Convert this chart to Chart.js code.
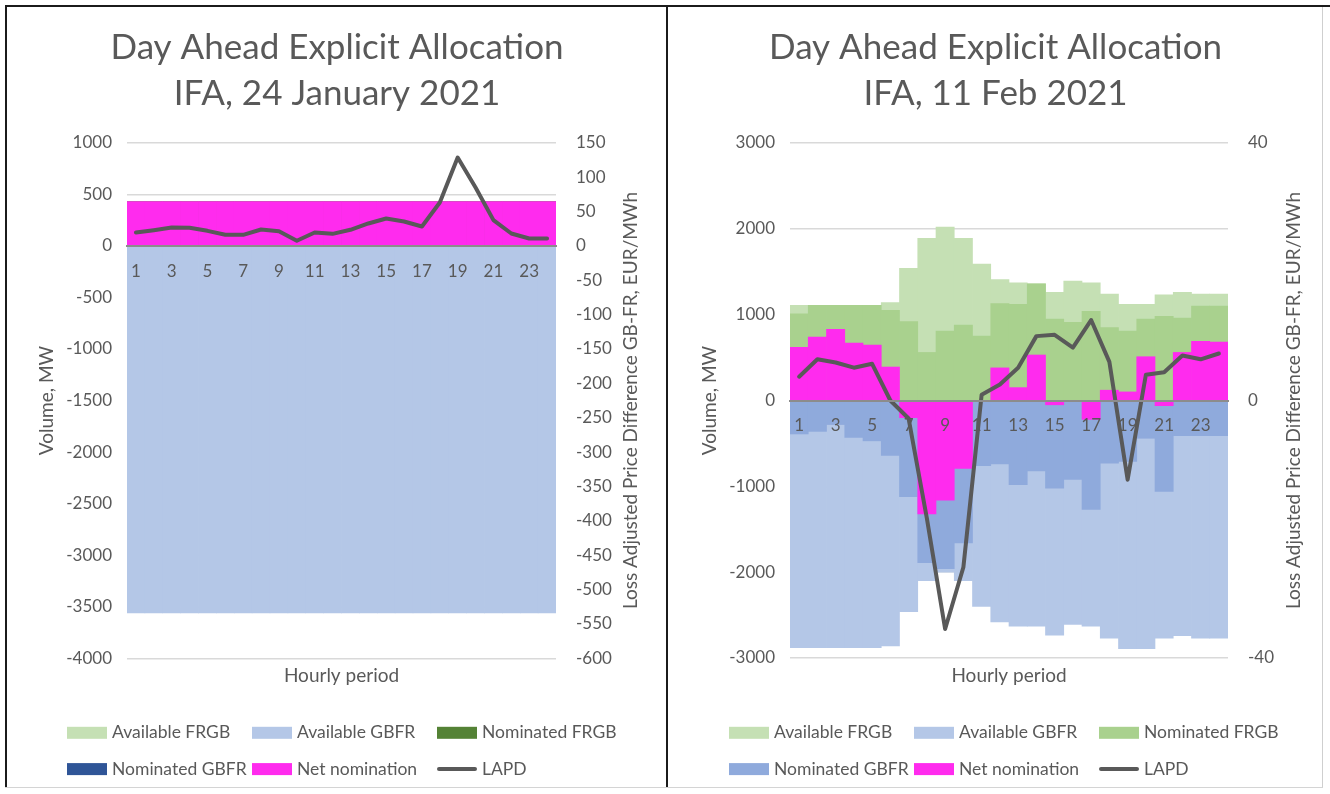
<!DOCTYPE html>
<html>
<head>
<meta charset="utf-8">
<title>Day Ahead Explicit Allocation – IFA</title>
<script src="https://cdn.jsdelivr.net/npm/chart.js@4.4.1/dist/chart.umd.min.js"></script>
<style>
  html, body { margin: 0; padding: 0; background: #ffffff; }
  body { width: 1330px; height: 794px; position: relative; overflow: hidden; }
  .rule { position: absolute; }
  canvas { position: absolute; }
  #c1 { left: 8px; top: 8px; }
  #c2 { left: 669px; top: 8px; }
</style>
</head>
<body>
<div class="rule" style="left:5px;top:5px;width:1325px;height:2px;background:#1b1b1b"></div>
<div class="rule" style="left:5px;top:5px;width:2px;height:783px;background:#1b1b1b"></div>
<div class="rule" style="left:666px;top:5px;width:2px;height:783px;background:#1b1b1b"></div>
<div class="rule" style="left:1322px;top:7px;width:1px;height:781px;background:#cfcfcf"></div>
<div class="rule" style="left:5px;top:787px;width:1318px;height:1px;background:#d4d4d4"></div>
<canvas id="c1" width="658" height="778"></canvas>
<canvas id="c2" width="653" height="778"></canvas>
<script>
// Hourly periods
const HOURS = ['1','2','3','4','5','6','7','8','9','10','11','12',
               '13','14','15','16','17','18','19','20','21','22','23','24'];

// 24 January 2021 (MW, LAPD in EUR/MWh)
const JAN_AVAILABLE_FRGB = [430,430,430,430,430,430,430,430,430,430,430,430,430,430,430,430,430,430,430,430,430,430,430,430];
const JAN_AVAILABLE_GBFR = [-3560,-3560,-3560,-3560,-3560,-3560,-3560,-3560,-3560,-3560,-3560,-3560,-3560,-3560,-3560,-3560,-3560,-3560,-3560,-3560,-3560,-3560,-3560,-3560];
const JAN_NOMINATED_FRGB = [430,430,430,430,430,430,430,430,430,430,430,430,430,430,430,430,430,430,430,430,430,430,430,430];
const JAN_NOMINATED_GBFR = [0,0,0,0,0,0,0,0,0,0,0,0,0,0,0,0,0,0,0,0,0,0,0,0];
const JAN_NET_NOMINATION = [430,430,430,430,430,430,430,430,430,430,430,430,430,430,430,430,430,430,430,430,430,430,430,430];
const JAN_LAPD = [19.3,22.8,26.6,26.2,21.8,16,16,23.7,21.3,7.3,19.3,17.4,23.3,32.5,39.7,35.4,28.1,63,128.4,84.8,37.4,17.9,10.6,10.6];

// 11 February 2021 (MW, LAPD in EUR/MWh)
const FEB_AVAILABLE_FRGB = [1110,1110,1110,1110,1110,1140,1540,1890,2020,1890,1590,1410,1370,1360,1260,1390,1370,1240,1120,1120,1230,1260,1240,1240];
const FEB_AVAILABLE_GBFR = [-2880,-2880,-2880,-2880,-2880,-2860,-2460,-2100,-2000,-2100,-2400,-2580,-2630,-2630,-2735,-2610,-2630,-2770,-2890,-2890,-2770,-2740,-2770,-2770];
const FEB_NOMINATED_FRGB = [1010,1110,1110,1110,1110,1050,920,560,810,880,750,1130,1120,1360,950,910,1040,850,810,950,980,960,1100,1100];
const FEB_NOMINATED_GBFR = [-390,-360,-280,-430,-470,-640,-1120,-1890,-1960,-1660,-760,-740,-980,-820,-1020,-920,-1270,-730,-710,-440,-1060,-410,-410,-410];
const FEB_NET_NOMINATION = [620,740,830,670,645,390,-200,-1320,-1160,-790,-10,380,150,530,-50,-10,-220,120,100,510,-60,560,690,680];
const FEB_LAPD = [3.7,6.4,5.9,5.1,5.7,0,-2.8,-18.3,-35.5,-25.9,0.9,2.5,5.1,10.0,10.2,8.2,12.5,6.0,-12.3,4.0,4.4,7.0,6.4,7.3];

const TEXT = '#595959';
const FONT = 'Lato, "Open Sans", sans-serif';
const MAGENTA = '#FF2BEE';

function barSet(label, data, color, order) {
  return {
    type: 'bar', label, data, backgroundColor: color, borderWidth: 0,
    grouped: false, barPercentage: 1, categoryPercentage: 1, order,
    xAxisID: 'x', yAxisID: 'y'
  };
}

function lineSet(label, data) {
  return {
    type: 'line', label, data, borderColor: '#595959', backgroundColor: '#595959',
    borderWidth: 4, pointRadius: 0, tension: 0, fill: false, order: 0,
    borderJoinStyle: 'round', borderCapStyle: 'round',
    xAxisID: 'x', yAxisID: 'y2'
  };
}

// Right-hand axis title (reading upwards) and the three-column legend
const sideParts = {
  id: 'sideParts',
  afterDraw(chart, args, opts) {
    const ctx = chart.ctx;
    const a = chart.chartArea;
    ctx.save();
    ctx.fillStyle = TEXT;
    ctx.font = '19px ' + FONT;
    ctx.textAlign = 'center';
    ctx.textBaseline = 'middle';
    ctx.translate(a.right + opts.rightTitleOffset, (a.top + a.bottom) / 2);
    ctx.rotate(-Math.PI / 2);
    ctx.fillText(opts.rightTitle, 0, 0);
    ctx.restore();

    ctx.save();
    ctx.font = '17.5px ' + FONT;
    ctx.textAlign = 'left';
    ctx.textBaseline = 'middle';
    chart.data.datasets.forEach((ds, i) => {
      const x = opts.legendLeft + (i % 3) * opts.legendColumn;
      const y = opts.legendTop + Math.floor(i / 3) * opts.legendRow;
      if (ds.type === 'line') {
        ctx.strokeStyle = ds.borderColor;
        ctx.lineWidth = 4;
        ctx.lineCap = 'round';
        ctx.beginPath();
        ctx.moveTo(x + 2, y);
        ctx.lineTo(x + 38, y);
        ctx.stroke();
      } else {
        ctx.fillStyle = ds.backgroundColor;
        ctx.fillRect(x, y - 6, 40, 12);
      }
      ctx.fillStyle = TEXT;
      ctx.fillText(ds.label, x + 45, y);
    });
    ctx.restore();
  }
};

function makeChart(canvas, spec) {
  return new Chart(canvas, {
    type: 'bar',
    data: {
      labels: HOURS,
      datasets: [
        barSet('Available FRGB', spec.availFRGB, '#C5E0B4', 5),
        barSet('Available GBFR', spec.availGBFR, '#B4C7E7', 4),
        barSet('Nominated FRGB', spec.nomFRGB, spec.nomFRGBColor, 3),
        barSet('Nominated GBFR', spec.nomGBFR, spec.nomGBFRColor, 2),
        barSet('Net nomination', spec.net, MAGENTA, 1),
        lineSet('LAPD', spec.lapd)
      ]
    },
    options: {
      responsive: false,
      animation: false,
      devicePixelRatio: 1,
      layout: { padding: 0 },
      plugins: {
        legend: { display: false },
        tooltip: { enabled: false },
        title: {
          display: true,
          text: spec.title,
          color: TEXT,
          font: { size: 35, family: FONT, weight: 'normal', lineHeight: '46px' },
          padding: { top: 16.5, bottom: spec.plotTop - 16.5 - 92 }
        },
        sideParts: {
          rightTitle: 'Loss Adjusted Price Difference GB-FR, EUR/MWh',
          rightTitleOffset: spec.rightTitleOffset,
          legendLeft: spec.legendLeft,
          legendColumn: 185,
          legendTop: 724.8,
          legendRow: 36.3
        }
      },
      scales: {
        x: {
          type: 'category',
          position: { y: 0 },
          offset: true,
          grid: { display: false, drawTicks: false },
          border: { display: true, color: '#8c8c8c', width: 2, z: 1 },
          ticks: {
            z: 1, color: TEXT, font: { size: 17, family: FONT }, padding: 15,
            autoSkip: false, maxRotation: 0, minRotation: 0,
            callback: (v, i) => (i % 2 === 0 ? HOURS[i] : '')
          }
        },
        x2: {
          type: 'category',
          position: 'bottom',
          offset: true,
          grid: { display: false, drawTicks: false },
          border: { display: false },
          ticks: { display: false },
          title: {
            display: true, text: 'Hourly period', color: TEXT,
            font: { size: 19, family: FONT }, padding: { top: 0, bottom: 98.5 }
          },
          afterFit: (s) => { s.height = 778 - spec.plotBottom; }
        },
        y: {
          position: 'left',
          min: spec.yMin, max: spec.yMax,
          ticks: {
            stepSize: spec.yStep, color: TEXT, font: { size: 17, family: FONT }, padding: 15,
            format: { useGrouping: false }
          },
          grid: { color: '#D9D9D9', lineWidth: 1.5, drawTicks: false },
          border: { display: false },
          title: {
            display: true, text: 'Volume, MW', color: TEXT,
            font: { size: 19, family: FONT }, padding: { top: spec.leftTitlePad, bottom: 0 }
          },
          afterFit: (s) => { s.width = spec.plotLeft; }
        },
        y2: {
          position: 'right',
          min: spec.y2Min, max: spec.y2Max,
          ticks: {
            stepSize: spec.y2Step, color: TEXT, font: { size: 17, family: FONT }, padding: 20,
            format: { useGrouping: false }
          },
          grid: { display: false, drawTicks: false },
          border: { display: false },
          afterFit: (s) => { s.width = canvas.width - spec.plotRight; }
        }
      }
    },
    plugins: [sideParts]
  });
}

makeChart(document.getElementById('c1'), {
  title: ['Day Ahead Explicit Allocation', 'IFA, 24 January 2021'],
  availFRGB: JAN_AVAILABLE_FRGB, availGBFR: JAN_AVAILABLE_GBFR,
  nomFRGB: JAN_NOMINATED_FRGB, nomGBFR: JAN_NOMINATED_GBFR,
  net: JAN_NET_NOMINATION, lapd: JAN_LAPD,
  nomFRGBColor: '#548235', nomGBFRColor: '#2F5597',
  yMin: -4000, yMax: 1000, yStep: 500,
  y2Min: -600, y2Max: 150, y2Step: 50,
  plotLeft: 119, plotRight: 548, plotTop: 134.7, plotBottom: 650.3,
  leftTitlePad: 27.5, rightTitleOffset: 75, legendLeft: 59
});

makeChart(document.getElementById('c2'), {
  title: ['Day Ahead Explicit Allocation', 'IFA, 11 Feb 2021'],
  availFRGB: FEB_AVAILABLE_FRGB, availGBFR: FEB_AVAILABLE_GBFR,
  nomFRGB: FEB_NOMINATED_FRGB, nomGBFR: FEB_NOMINATED_GBFR,
  net: FEB_NET_NOMINATION, lapd: FEB_LAPD,
  nomFRGBColor: '#A9D18E', nomGBFRColor: '#8FAADC',
  yMin: -3000, yMax: 3000, yStep: 1000,
  y2Min: -40, y2Max: 40, y2Step: 40,
  plotLeft: 121, plotRight: 559, plotTop: 135, plotBottom: 650,
  leftTitlePad: 29, rightTitleOffset: 65.5, legendLeft: 60
});
</script>
</body>
</html>
